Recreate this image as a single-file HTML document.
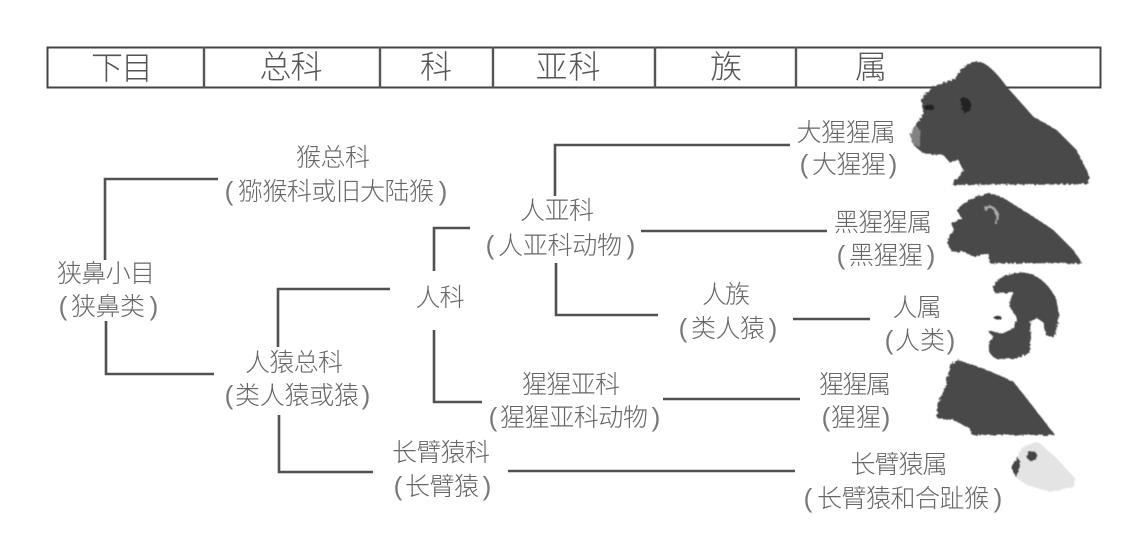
<!DOCTYPE html>
<html><head><meta charset="utf-8"><style>
html,body{margin:0;padding:0;background:#fff;width:1143px;height:540px;overflow:hidden}
svg{display:block}
text{font-family:"Liberation Sans","Noto Sans CJK SC",sans-serif;font-weight:300;fill:#666;font-size:25px;text-anchor:middle;dominant-baseline:central}
.h{font-size:32px;fill:#555}
.p{font-size:26px;fill:#777}
.l{fill:none;stroke:#515151;stroke-width:2.6}
</style></head><body>
<svg width="1143" height="540" viewBox="0 0 1143 540" xmlns="http://www.w3.org/2000/svg">
<defs>
<filter id="fur" x="-10%" y="-10%" width="120%" height="120%">
<feTurbulence type="fractalNoise" baseFrequency="0.35" numOctaves="2" seed="4" result="n"/>
<feDisplacementMap in="SourceGraphic" in2="n" scale="4" result="d"/>
<feGaussianBlur in="d" stdDeviation="0.55"/>
</filter>
</defs>
<rect x="47.5" y="47.5" width="1053" height="40" fill="none" stroke="#444" stroke-width="2"/>
<path d="M204 47V88M380 47V88M493 47V88M655 47V88M796 47V88" stroke="#555" stroke-width="2.4" fill="none"/>
<g transform="translate(0,1)">
<text class="h" x="122" y="67" textLength="62">下目</text>
<text class="h" x="291" y="66" textLength="63">总科</text>
<text class="h" x="436" y="66" textLength="32">科</text>
<text class="h" x="568" y="66" textLength="65">亚科</text>
<text class="h" x="726" y="66" textLength="32">族</text>
<text class="h" x="871" y="66" textLength="32">属</text>

<text x="333" y="157" textLength="74">猴总科</text>
<text x="336" y="191" textLength="196">猕猴科或旧大陆猴</text>
<text class="p" x="229" y="190">(</text><text class="p" x="443" y="190">)</text>
<text x="106" y="273" textLength="98">狭鼻小目</text>
<text x="108" y="306" textLength="74">狭鼻类</text>
<text class="p" x="63" y="305">(</text><text class="p" x="154" y="305">)</text>
<text x="294" y="362" textLength="98">人猿总科</text>
<text x="297" y="395" textLength="124">类人猿或猿</text>
<text class="p" x="229" y="394">(</text><text class="p" x="366" y="394">)</text>
<text x="440" y="297" textLength="49">人科</text>
<text x="557" y="210" textLength="74">人亚科</text>
<text x="560" y="245" textLength="124">人亚科动物</text>
<text class="p" x="490" y="244">(</text><text class="p" x="631" y="244">)</text>
<text x="726" y="294" textLength="48">人族</text>
<text x="728" y="328" textLength="74">类人猿</text>
<text class="p" x="683" y="327">(</text><text class="p" x="773" y="327">)</text>
<text x="846" y="132" textLength="99">大猩猩属</text>
<text x="849" y="164" textLength="74">大猩猩</text>
<text class="p" x="804" y="163">(</text><text class="p" x="893" y="163">)</text>
<text x="883" y="222" textLength="98">黑猩猩属</text>
<text x="886" y="255" textLength="74">黑猩猩</text>
<text class="p" x="841" y="254">(</text><text class="p" x="931" y="254">)</text>
<text x="917" y="307" textLength="49">人属</text>
<text x="920" y="340" textLength="50">人类</text>
<text class="p" x="889" y="339">(</text><text class="p" x="951" y="339">)</text>
<text x="571" y="384" textLength="98">猩猩亚科</text>
<text x="574" y="417" textLength="148">猩猩亚科动物</text>
<text class="p" x="493" y="416">(</text><text class="p" x="656" y="416">)</text>
<text x="855" y="384" textLength="72">猩猩属</text>
<text x="856" y="417" textLength="50">猩猩</text>
<text class="p" x="826" y="416">(</text><text class="p" x="886" y="416">)</text>
<text x="441" y="452" textLength="98">长臂猿科</text>
<text x="442" y="486" textLength="74">长臂猿</text>
<text class="p" x="398" y="485">(</text><text class="p" x="487" y="485">)</text>
<text x="899" y="464" textLength="97">长臂猿属</text>
<text x="903" y="498" textLength="172">长臂猿和合趾猴</text>
<text class="p" x="808" y="497">(</text><text class="p" x="998" y="497">)</text>
</g>

<path class="l" d="M105 260V179H218M106 321V374H214M278 347V289H390M279 415V472H373M434 271V228H470M434 330V402H482M555 196V145H790M556 263V315H658M641 231H827M793 319H870M663 399H800M508 471H795"/>

<g filter="url(#fur)">
<g transform="translate(900,50) scale(.3333)">
<path fill="#484848" d="M30 255L45 225L70 195L65 145L100 110L165 85Q195 35 235 35Q270 40 320 110L400 200L470 240L530 300L550 340L568 380L565 402L155 405L190 360L175 330L150 338L130 315L70 310L40 285Z"/>
<path fill="#aaa" opacity=".6" d="M30 255L45 225L60 240L60 290L40 285Z"/>
<path fill="#222" d="M180 145Q205 135 215 165Q210 190 190 190Z"/>
<ellipse cx="88" cy="172" rx="16" ry="9" fill="#222"/>
<path fill="#484848" d="M140 575L160 540L155 520L185 505L170 480Q200 445 260 430Q300 435 320 450L400 500L460 540L520 600L547 640L270 640L265 610L220 620L190 605L155 605L145 585Z"/>
<path fill="none" stroke="#aaa" stroke-width="7" d="M255 480Q270 460 285 480Q300 500 285 520"/>
</g>
<g transform="translate(900,265) scale(.3333)">
<path fill="#484848" stroke="#484848" stroke-width="6" stroke-linejoin="round" d="M282 72Q290 30 370 24Q430 35 465 100L475 150L462 212L442 210L432 170L410 155L388 172L390 215L385 258Q360 282 290 278Q265 268 270 232L285 215L268 200L310 208L345 190L355 160L330 120L345 80L288 82Z"/>
<ellipse cx="293" cy="158" rx="12" ry="5" fill="#333"/>
<path fill="#484848" d="M110 460L115 410L135 370L150 300L175 285L260 315L340 350L380 400L465 510L215 510L210 490L160 465Z"/>
<path fill="#e4e4e4" d="M335 600L370 545Q395 530 420 535L470 580L525 640L525 665L450 680L380 660L345 635Z"/>
<ellipse cx="396" cy="573" rx="16" ry="15" fill="#444"/>
<path fill="#444" d="M333 605L355 575L362 600L348 638Z"/>
</g>
</g>
</svg>
</body></html>
